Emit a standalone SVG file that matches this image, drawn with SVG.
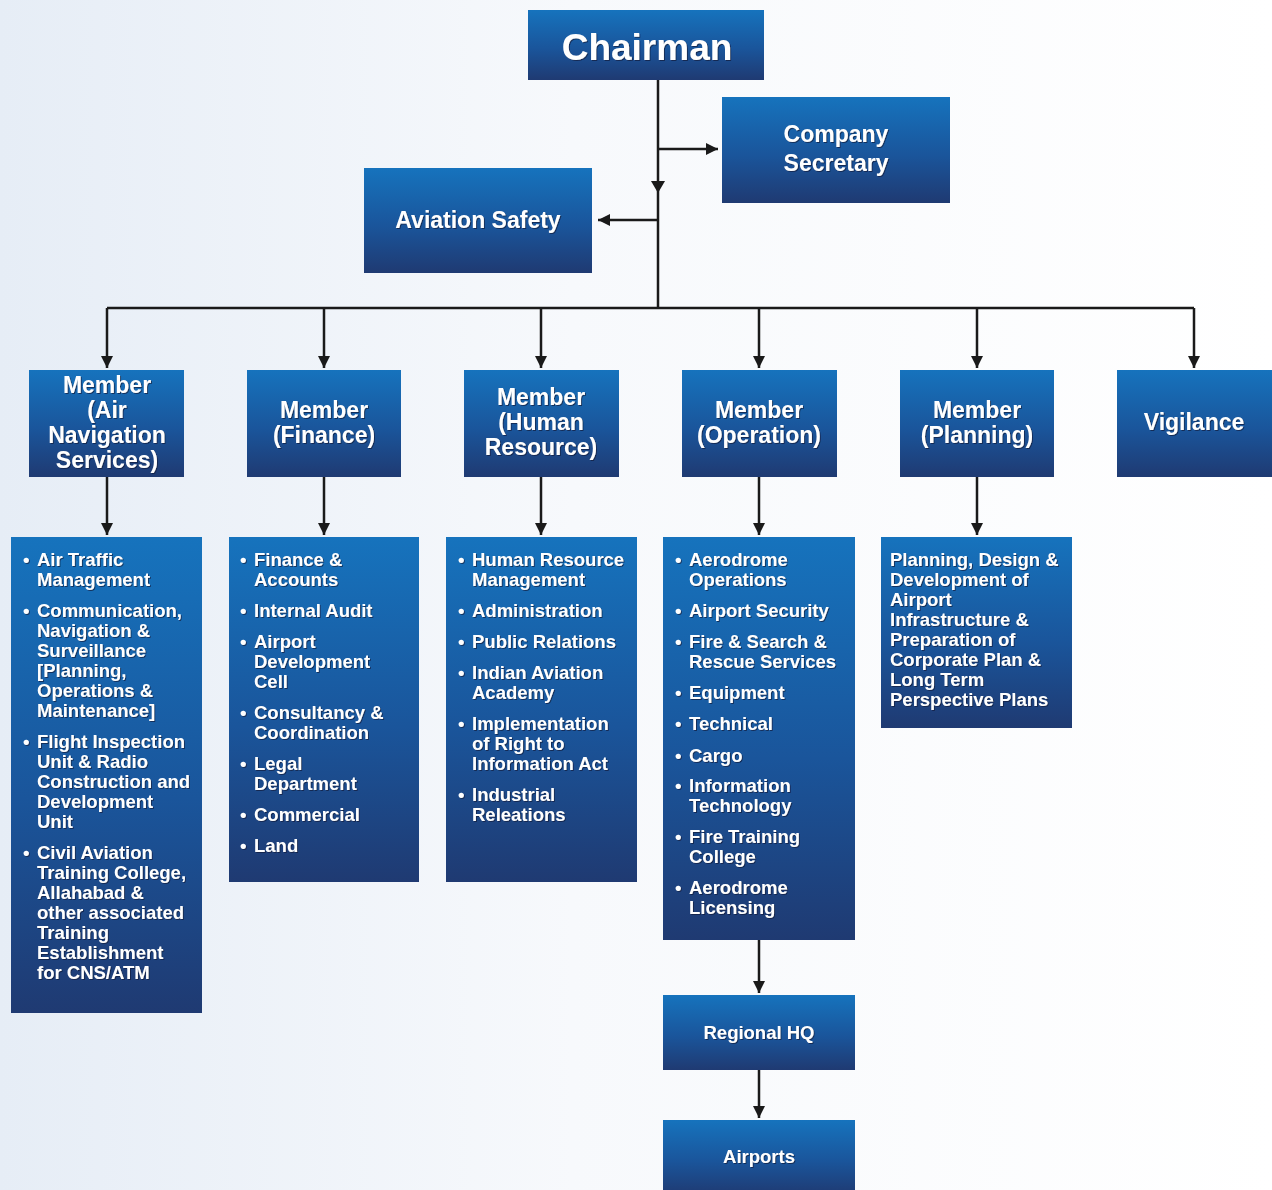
<svg xmlns="http://www.w3.org/2000/svg" width="1272" height="1190" viewBox="0 0 1272 1190">
<defs>
<linearGradient id="bg" x1="0" y1="0" x2="1" y2="0">
<stop offset="0" stop-color="#e6edf6"/>
<stop offset="0.45" stop-color="#f7f9fc"/>
<stop offset="1" stop-color="#ffffff"/>
</linearGradient>
<linearGradient id="box" x1="0" y1="0" x2="0" y2="1">
<stop offset="0" stop-color="#1673bd"/>
<stop offset="0.55" stop-color="#1a559b"/>
<stop offset="1" stop-color="#1f3a72"/>
</linearGradient>
<filter id="ts" x="-5%" y="-20%" width="110%" height="140%">
<feDropShadow dx="1" dy="1" stdDeviation="0.6" flood-color="#0a1a3a" flood-opacity="0.7"/>
</filter>
<marker id="ah" viewBox="0 0 12 12" refX="12" refY="6" markerWidth="12" markerHeight="12" markerUnits="userSpaceOnUse" orient="auto">
<path d="M0,0 L12,6 L0,12 Z" fill="#1a1a1a"/>
</marker>
</defs>
<style>
.b{fill:url(#box);}
.t{font-family:"Liberation Sans",Arial,sans-serif;font-weight:bold;fill:#ffffff;filter:url(#ts);}
.h{font-size:23px;text-anchor:middle;}
.l{font-size:18.5px;}
.c{stroke:#1a1a1a;stroke-width:2.5;fill:none;}
</style>
<rect x="0" y="0" width="1272" height="1190" fill="url(#bg)"/>

<g id="connectors">
<path class="c" d="M658,80 V308"/>
<path d="M651,181 L665,181 L658,193 Z" fill="#1a1a1a"/>
<path class="c" d="M658,149 H718" marker-end="url(#ah)"/>
<path class="c" d="M658,220 H598" marker-end="url(#ah)"/>
<path class="c" d="M107,308 H1194"/>
<path class="c" d="M107,308 V368" marker-end="url(#ah)"/>
<path class="c" d="M324,308 V368" marker-end="url(#ah)"/>
<path class="c" d="M541,308 V368" marker-end="url(#ah)"/>
<path class="c" d="M759,308 V368" marker-end="url(#ah)"/>
<path class="c" d="M977,308 V368" marker-end="url(#ah)"/>
<path class="c" d="M1194,308 V368" marker-end="url(#ah)"/>
<path class="c" d="M107,477 V535" marker-end="url(#ah)"/>
<path class="c" d="M324,477 V535" marker-end="url(#ah)"/>
<path class="c" d="M541,477 V535" marker-end="url(#ah)"/>
<path class="c" d="M759,477 V535" marker-end="url(#ah)"/>
<path class="c" d="M977,477 V535" marker-end="url(#ah)"/>
<path class="c" d="M759,940 V993" marker-end="url(#ah)"/>
<path class="c" d="M759,1070 V1118" marker-end="url(#ah)"/>
</g>

<g id="chairman">
<rect class="b" x="528" y="10" width="236" height="70"/>
<text class="t" x="647" y="60" font-size="37" text-anchor="middle">Chairman</text>
</g>
<g id="company-secretary">
<rect class="b" x="722" y="97" width="228" height="106"/>
<text class="t h" x="836" y="142">Company</text>
<text class="t h" x="836" y="171">Secretary</text>
</g>
<g id="aviation-safety">
<rect class="b" x="364" y="168" width="228" height="105"/>
<text class="t h" x="478" y="228">Aviation Safety</text>
</g>

<g id="member-ans">
<rect class="b" x="29" y="370" width="155" height="107"/>
<text class="t h" x="107" y="393">Member</text>
<text class="t h" x="107" y="418">(Air</text>
<text class="t h" x="107" y="443">Navigation</text>
<text class="t h" x="107" y="468">Services)</text>
</g>
<g id="member-finance">
<rect class="b" x="247" y="370" width="154" height="107"/>
<text class="t h" x="324" y="418">Member</text>
<text class="t h" x="324" y="443">(Finance)</text>
</g>
<g id="member-hr">
<rect class="b" x="464" y="370" width="155" height="107"/>
<text class="t h" x="541" y="405">Member</text>
<text class="t h" x="541" y="430">(Human</text>
<text class="t h" x="541" y="455">Resource)</text>
</g>
<g id="member-operation">
<rect class="b" x="682" y="370" width="155" height="107"/>
<text class="t h" x="759" y="418">Member</text>
<text class="t h" x="759" y="443">(Operation)</text>
</g>
<g id="member-planning">
<rect class="b" x="900" y="370" width="154" height="107"/>
<text class="t h" x="977" y="418">Member</text>
<text class="t h" x="977" y="443">(Planning)</text>
</g>
<g id="vigilance">
<rect class="b" x="1117" y="370" width="155" height="107"/>
<text class="t h" x="1194" y="430">Vigilance</text>
</g>

<g id="list-ans">
<rect class="b" x="11" y="537" width="191" height="476"/>
<g class="t l">
<text x="23" y="566">•</text><text x="37" y="566">Air Traffic</text><text x="37" y="586">Management</text>
<text x="23" y="617">•</text><text x="37" y="617">Communication,</text><text x="37" y="637">Navigation &amp;</text><text x="37" y="657">Surveillance</text><text x="37" y="677">[Planning,</text><text x="37" y="697">Operations &amp;</text><text x="37" y="717">Maintenance]</text>
<text x="23" y="748">•</text><text x="37" y="748">Flight Inspection</text><text x="37" y="768">Unit &amp; Radio</text><text x="37" y="788">Construction and</text><text x="37" y="808">Development</text><text x="37" y="828">Unit</text>
<text x="23" y="859">•</text><text x="37" y="859">Civil Aviation</text><text x="37" y="879">Training College,</text><text x="37" y="899">Allahabad &amp;</text><text x="37" y="919">other associated</text><text x="37" y="939">Training</text><text x="37" y="959">Establishment</text><text x="37" y="979">for CNS/ATM</text>
</g>
</g>
<g id="list-finance">
<rect class="b" x="229" y="537" width="190" height="345"/>
<g class="t l">
<text x="240" y="566">•</text><text x="254" y="566">Finance &amp;</text><text x="254" y="586">Accounts</text>
<text x="240" y="617">•</text><text x="254" y="617">Internal Audit</text>
<text x="240" y="648">•</text><text x="254" y="648">Airport</text><text x="254" y="668">Development</text><text x="254" y="688">Cell</text>
<text x="240" y="719">•</text><text x="254" y="719">Consultancy &amp;</text><text x="254" y="739">Coordination</text>
<text x="240" y="770">•</text><text x="254" y="770">Legal</text><text x="254" y="790">Department</text>
<text x="240" y="821">•</text><text x="254" y="821">Commercial</text>
<text x="240" y="852">•</text><text x="254" y="852">Land</text>
</g>
</g>
<g id="list-hr">
<rect class="b" x="446" y="537" width="191" height="345"/>
<g class="t l">
<text x="458" y="566">•</text><text x="472" y="566">Human Resource</text><text x="472" y="586">Management</text>
<text x="458" y="617">•</text><text x="472" y="617">Administration</text>
<text x="458" y="648">•</text><text x="472" y="648">Public Relations</text>
<text x="458" y="679">•</text><text x="472" y="679">Indian Aviation</text><text x="472" y="699">Academy</text>
<text x="458" y="730">•</text><text x="472" y="730">Implementation</text><text x="472" y="750">of Right to</text><text x="472" y="770">Information Act</text>
<text x="458" y="801">•</text><text x="472" y="801">Industrial</text><text x="472" y="821">Releations</text>
</g>
</g>
<g id="list-operation">
<rect class="b" x="663" y="537" width="192" height="403"/>
<g class="t l">
<text x="675" y="566">•</text><text x="689" y="566">Aerodrome</text><text x="689" y="586">Operations</text>
<text x="675" y="617">•</text><text x="689" y="617">Airport Security</text>
<text x="675" y="648">•</text><text x="689" y="648">Fire &amp; Search &amp;</text><text x="689" y="668">Rescue Services</text>
<text x="675" y="699">•</text><text x="689" y="699">Equipment</text>
<text x="675" y="730">•</text><text x="689" y="730">Technical</text>
<text x="675" y="762">•</text><text x="689" y="762">Cargo</text>
<text x="675" y="792">•</text><text x="689" y="792">Information</text><text x="689" y="812">Technology</text>
<text x="675" y="843">•</text><text x="689" y="843">Fire Training</text><text x="689" y="863">College</text>
<text x="675" y="894">•</text><text x="689" y="894">Aerodrome</text><text x="689" y="914">Licensing</text>
</g>
</g>
<g id="list-planning">
<rect class="b" x="881" y="537" width="191" height="191"/>
<g class="t l">
<text x="890" y="566">Planning, Design &amp;</text>
<text x="890" y="586">Development of</text>
<text x="890" y="606">Airport</text>
<text x="890" y="626">Infrastructure &amp;</text>
<text x="890" y="646">Preparation of</text>
<text x="890" y="666">Corporate Plan &amp;</text>
<text x="890" y="686">Long Term</text>
<text x="890" y="706">Perspective Plans</text>
</g>
</g>
<g id="regional-hq">
<rect class="b" x="663" y="995" width="192" height="75"/>
<text class="t l" x="759" y="1039" text-anchor="middle">Regional HQ</text>
</g>
<g id="airports">
<rect class="b" x="663" y="1120" width="192" height="75"/>
<text class="t l" x="759" y="1163" text-anchor="middle">Airports</text>
</g>
</svg>
